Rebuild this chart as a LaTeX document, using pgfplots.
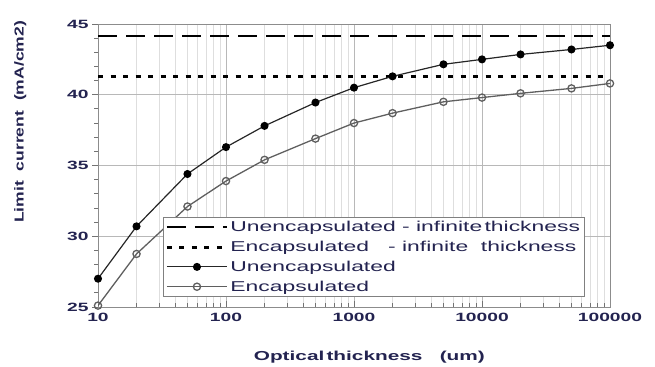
\documentclass[border=0pt]{standalone}
\usepackage{pgfplots}
\pgfplotsset{compat=1.18}
\usepackage{fontspec}
\setmainfont{Liberation Sans}
\newfontfamily\widefont{Liberation Sans}[FakeStretch=1.6]
\newfontfamily\ylabfont{Liberation Sans}[FakeStretch=1.35]
\definecolor{txt}{RGB}{35,35,80}
\definecolor{enc}{RGB}{95,95,95}
\begin{document}
\begin{tikzpicture}
\useasboundingbox (-98bp,-60bp) rectangle (557bp,307bp);
\begin{axis}[
  scale only axis, width=512bp, height=283bp,
  xmode=log, xmin=10, xmax=100000, ymin=25, ymax=45,
  xtick={10,100,1000,10000,100000},
  xticklabels={10,100,1000,10000,100000},
  ytick={25,30,35,40,45},
  minor ytick={26,27,28,29,31,32,33,34,36,37,38,39,41,42,43,44},
  xmajorgrids, xminorgrids, ymajorgrids,
  major grid style={black!28, line width=0.9bp},
  minor grid style={black!13, line width=0.9bp},
  axis line style={black!45, line width=0.9bp},
  xtick pos=bottom, ytick pos=left,
  xtick align=inside, ytick align=outside,
  major tick length=6bp, minor tick length=4bp,
  tick style={black!55, line width=0.8bp},
  /pgf/number format/assume math mode=true,
  tick label style={font=\widefont\bfseries\fontsize{12bp}{14bp}\selectfont, text=txt},
  xticklabel style={yshift=-3bp},
  xlabel={Optical\,thickness\ \ \ (um)},
  xlabel style={at={(axis description cs:0.53,-0.177)}, anchor=center,
    font=\widefont\bfseries\fontsize{13bp}{15bp}\selectfont, text=txt},
  ylabel={Limit\ \ current\ \ (mA/cm2)},
  ylabel style={at={(axis description cs:-0.152,0.654)}, anchor=center,
    font=\ylabfont\bfseries\fontsize{13bp}{15bp}\selectfont, text=txt},
  legend cell align=left,
  legend style={at={(0.127,0.035)}, anchor=south west, draw=black!50, line width=0.9bp,
    font=\widefont\fontsize{14.3bp}{15bp}\selectfont, text=txt,
    inner sep=2bp, row sep=4bp, fill=white},
  legend image code/.code={\draw[mark repeat=2,mark phase=2,#1] plot coordinates {(0bp,0bp) (30bp,0bp) (60bp,0bp)};},
]
\addplot[black, line width=2.4bp, dash pattern=on 19bp off 9bp] coordinates {(10,44.15) (100000,44.15)};
\addlegendentry{Unencapsulated - infinite\,thickness}
\addplot[black, line width=3bp, dash pattern=on 5bp off 7.5bp] coordinates {(10,41.3) (100000,41.3)};
\addlegendentry{Encapsulated\ \ \ - infinite\ \ thickness}
\addplot[black!85, line width=1.2bp, mark=*, mark size=3.4bp, mark options={fill=black, draw=black, solid}] coordinates {
(10,27.0) (20,30.7) (50,34.4) (100,36.3) (200,37.8) (500,39.45) (1000,40.5) (2000,41.3) (5000,42.15) (10000,42.5) (20000,42.85) (50000,43.2) (100000,43.5)};
\addlegendentry{Unencapsulated}
\addplot[enc, line width=1.3bp, mark=o, mark size=3.6bp, mark options={fill=white, draw=enc, solid}] coordinates {
(10,25.1) (20,28.75) (50,32.1) (100,33.9) (200,35.4) (500,36.9) (1000,38.0) (2000,38.7) (5000,39.5) (10000,39.8) (20000,40.1) (50000,40.45) (100000,40.8)};
\addlegendentry{Encapsulated}
\end{axis}
\end{tikzpicture}
\end{document}
